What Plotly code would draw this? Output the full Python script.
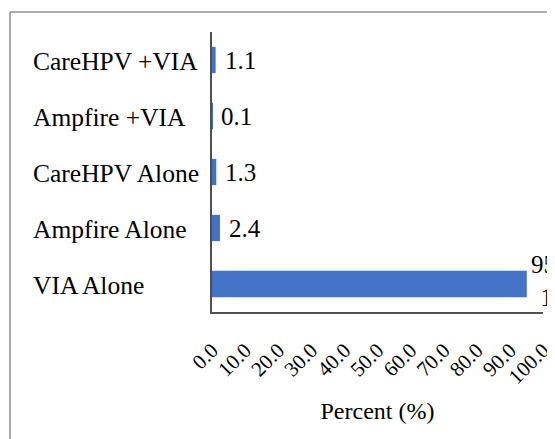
import plotly.graph_objects as go

categories = ["VIA Alone", "Ampfire Alone", "CareHPV Alone", "Ampfire +VIA", "CareHPV +VIA"]
values = [95.1, 2.4, 1.3, 0.1, 1.1]
x_ticks = [0, 10, 20, 30, 40, 50, 60, 70, 80, 90, 100]

FONT = "Liberation Serif, Times New Roman, serif"
W, H = 555, 439
OFF = 8  # page body margin
L, R, T, B = 212 - OFF, 12 + OFF, 32 - OFF, 127 + OFF
pw = W - L - R
ph = H - T - B

fig = go.Figure()
fig.add_trace(go.Bar(
    x=values, y=categories, orientation="h",
    marker=dict(color="#4472C4", line=dict(width=0)),
    width=0.47, hoverinfo="skip",
))

annotations = []
# value labels
for c, v in zip(categories, values):
    txt = f"{v:.1f}"
    if v > 90:
        txt = txt.replace(".", ".<br>")
        annotations.append(dict(x=v, y=c, xref="x", yref="y", text=txt, showarrow=False,
                                xanchor="left", yanchor="middle", xshift=2, yshift=3, align="center",
                                font=dict(family=FONT, size=25, color="#000000")))
    else:
        annotations.append(dict(x=v, y=c, xref="x", yref="y", text=txt, showarrow=False,
                                xanchor="left", yanchor="middle", xshift=7,
                                font=dict(family=FONT, size=25, color="#000000")))
# left-aligned category labels
for c in categories:
    annotations.append(dict(x=(31 - OFF - L) / pw, y=c, xref="paper", yref="y", text=c, showarrow=False,
                            xanchor="left", yanchor="middle", yshift=-1,
                            font=dict(family=FONT, size=25.5, color="#000000")))

fig.update_layout(
    width=W, height=H,
    margin=dict(l=L, r=R, t=T, b=B, autoexpand=False),
    paper_bgcolor="white", plot_bgcolor="white",
    showlegend=False,
    annotations=annotations,
    xaxis=dict(
        range=[0, 100], tickvals=x_ticks, ticktext=[f"{t:.1f}" for t in x_ticks],
        tickangle=-45, showgrid=False, zeroline=False, automargin=False,
        showline=True, linecolor="#505050", linewidth=1.5,
        ticks="", ticklabelstandoff=16,
        tickfont=dict(family=FONT, size=21, color="#000000"),
        title=dict(text="Percent (%)", font=dict(family=FONT, size=24, color="#000000"), standoff=14),
    ),
    yaxis=dict(
        range=[-0.5, 4.5], showticklabels=False, showgrid=False, zeroline=False, automargin=False,
        showline=True, linecolor="#505050", linewidth=1.5, ticks="",
    ),
    shapes=[
        dict(type="rect", xref="paper", yref="paper",
             x0=(10 - OFF - L) / pw, x1=(W + 20 - L) / pw,
             y0=(H - B - (H + 20)) / ph, y1=(H - B - (12 - OFF)) / ph,
             line=dict(color="#595959", width=1), fillcolor="rgba(0,0,0,0)", layer="below"),
    ],
)

fig.write_html("out.html")
